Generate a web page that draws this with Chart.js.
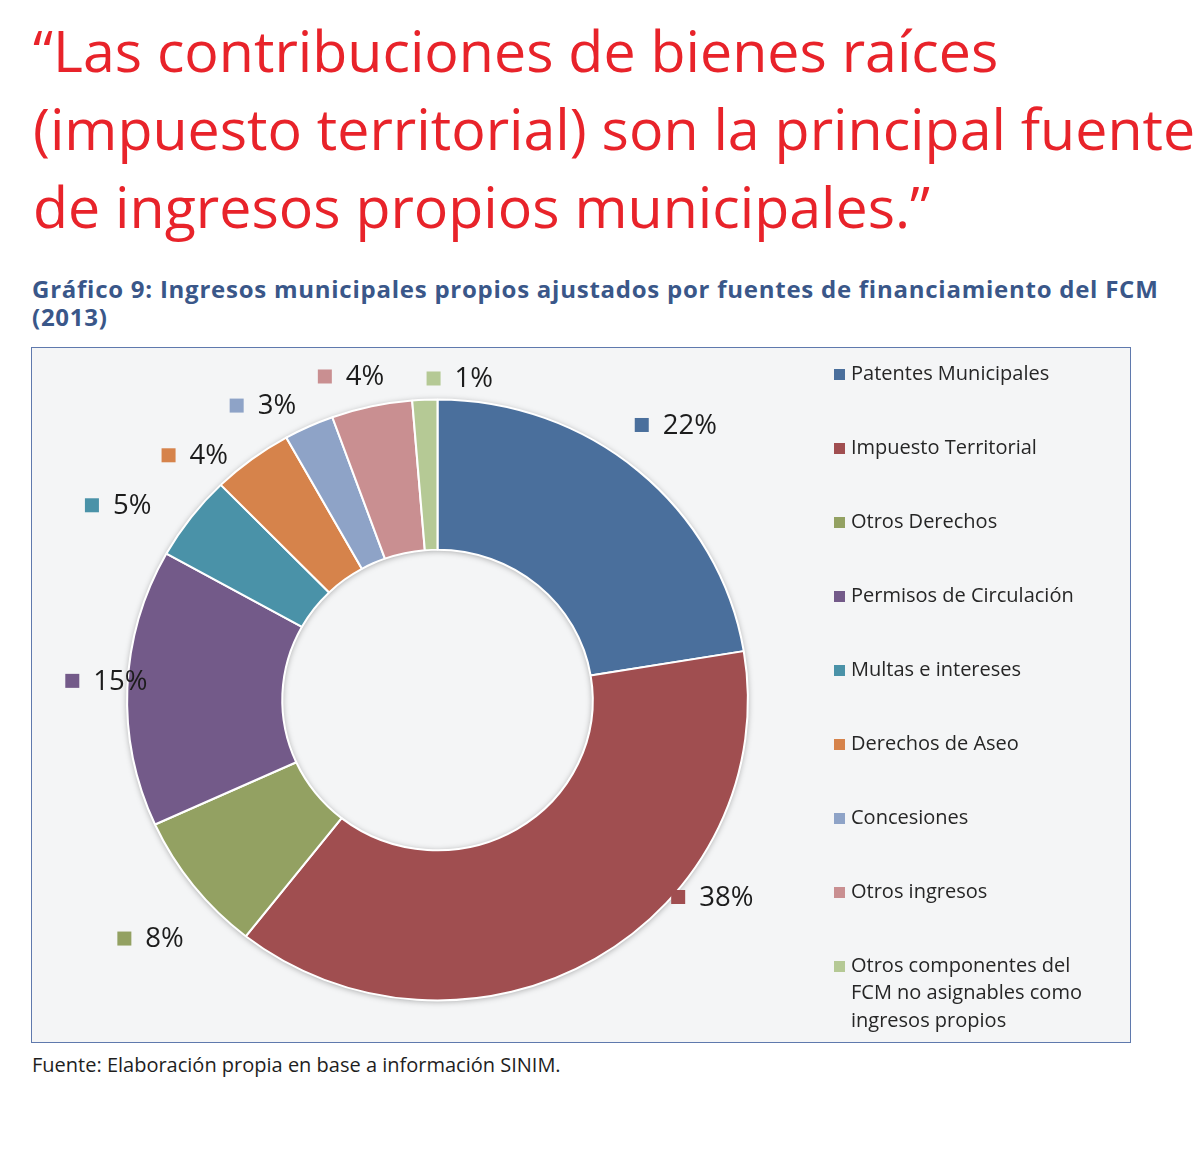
<!DOCTYPE html>
<html>
<head>
<meta charset="utf-8">
<script src="https://cdn.jsdelivr.net/npm/chart.js@4.4.1/dist/chart.umd.min.js"></script>
<style>
html, body { margin: 0; padding: 0; background: #fff; width: 1200px; height: 1153px; overflow: hidden; }
.headline { position: absolute; left: 33px; top: 11px; font-family: "Open Sans", sans-serif; font-size: 57.3px; line-height: 78px; color: #e8232a; white-space: nowrap; }
.subtitle { position: absolute; left: 32px; top: 275px; font-family: "Open Sans", sans-serif; font-weight: 700; font-size: 24px; letter-spacing: 0.75px; line-height: 28px; color: #3a5789; white-space: nowrap; }
.box { position: absolute; left: 31px; top: 347px; width: 1100px; height: 696px; box-sizing: border-box; border: 1px solid #5f79ad; background: #f4f5f6; }
.box canvas { display: block; }
.source { position: absolute; left: 32px; top: 1052px; font-family: "Open Sans", sans-serif; font-size: 20px; line-height: 26px; color: #1e1e1e; white-space: nowrap; }
</style>
</head>
<body>
<div class="headline">“Las contribuciones de bienes raíces<br>(impuesto territorial) son la principal fuente<br>de ingresos propios municipales.”</div>
<div class="subtitle">Gráfico 9: Ingresos municipales propios ajustados por fuentes de financiamiento del FCM<br>(2013)</div>
<div class="box"><canvas id="donut" width="1098" height="694"></canvas></div>
<div class="source">Fuente: Elaboración propia en base a información SINIM.</div>

<script>
"use strict";

// data (share of own municipal income, %)
const categories = [
    "Patentes Municipales",
    "Impuesto Territorial",
    "Otros Derechos",
    "Permisos de Circulación",
    "Multas e intereses",
    "Derechos de Aseo",
    "Concesiones",
    "Otros ingresos",
    "Otros componentes del FCM no asignables como ingresos propios"
];
const shares = [22.4, 38.2, 7.6, 14.9, 4.6, 4.2, 2.6, 4.2, 1.3];
const colours = ["#4a6f9c", "#a04e50", "#93a162", "#735a89", "#4a92a8", "#d6834b", "#8ea3c7", "#c98f91", "#b5c995"];

// where each % label sits: [degrees clockwise from top, distance in outer radii]
const label_spots = [[36.6, 1.14], [129.3, 1.035], [232.7, 1.31], [273, 1.217], [299.4, 1.32], [312.3, 1.21], [325.7, 1.186], [340.8, 1.14], [359.3, 1.07]];

const BG = "#f4f5f6";

// the original ring is a bit wider than tall
const stretch_plugin = {
    id: "stretch",
    beforeDatasetsDraw(chart, args, opts) {
        const arc = chart.getDatasetMeta(0).data[0];
        const ctx = chart.ctx;
        ctx.save();
        ctx.translate(arc.x, arc.y);
        ctx.scale(opts.x, 1);
        ctx.translate(-arc.x, -arc.y);
    },
    afterDatasetsDraw(chart) {
        chart.ctx.restore();
    }
};

// soft shadow round the ring (outside and into the hole)
const ring_shadow_plugin = {
    id: "ring_shadow",
    beforeDatasetsDraw(chart) {
        const arc = chart.getDatasetMeta(0).data[0];
        if (!arc) return;
        const ctx = chart.ctx;
        ctx.save();
        ctx.shadowColor = "rgba(0, 0, 0, 0.35)";
        ctx.shadowBlur = 6;
        ctx.shadowOffsetY = 1;
        ctx.beginPath();
        ctx.arc(arc.x, arc.y, arc.outerRadius, 0, Math.PI * 2);
        ctx.arc(arc.x, arc.y, arc.innerRadius, 0, Math.PI * 2, true);
        ctx.fillStyle = BG;
        ctx.fill();
        ctx.restore();
    }
};

const pct_labels_plugin = {
    id: "pct_labels",
    afterDatasetsDraw(chart) {
        const meta = chart.getDatasetMeta(0);
        const ctx = chart.ctx;
        ctx.save();
        ctx.font = "27.5px 'Open Sans'";
        ctx.textBaseline = "middle";
        meta.data.forEach((arc, i) => {
            const [deg, dist] = label_spots[i];
            const a = deg * Math.PI / 180;
            const x = arc.x + Math.sin(a) * dist * arc.outerRadius;
            const y = arc.y - Math.cos(a) * dist * arc.outerRadius;
            ctx.fillStyle = colours[i];
            ctx.fillRect(x - 7, y - 7, 14, 14);
            ctx.fillStyle = "#1c1c1c";
            ctx.fillText(Math.round(shares[i]) + "%", x + 21, y + 1);
        });
        ctx.restore();
    }
};

function wrap_text(ctx, text, max_w) {
    let lines = [];
    let line = "";
    text.split(" ").forEach(w => {
        let test = line ? line + " " + w : w;
        if (ctx.measureText(test).width > max_w && line) {
            lines.push(line);
            line = w;
        } else {
            line = test;
        }
    });
    lines.push(line);
    return lines;
}

const side_legend_plugin = {
    id: "side_legend",
    afterDraw(chart, args, opts) {
        const ctx = chart.ctx;
        ctx.save();
        ctx.font = "20px 'Open Sans'";
        ctx.textBaseline = "middle";
        categories.forEach((name, i) => {
            const y = opts.top + i * opts.step;
            ctx.fillStyle = colours[i];
            ctx.fillRect(opts.left, y - 5, 11, 11);
            ctx.fillStyle = "#262626";
            wrap_text(ctx, name, opts.maxWidth).forEach((ln, k) => {
                ctx.fillText(ln, opts.left + 17, y + k * opts.lineHeight);
            });
        });
        ctx.restore();
    }
};

new Chart(document.getElementById("donut").getContext("2d"), {
    type: "doughnut",
    data: {
        labels: categories,
        datasets: [{
            data: shares,
            backgroundColor: colours,
            borderColor: "#ffffff",
            borderWidth: 2
        }]
    },
    options: {
        responsive: false,
        animation: false,
        cutout: "50%",
        rotation: 0,
        layout: { padding: { left: 104, top: 50, right: 391, bottom: 40 } },
        events: [],
        plugins: {
            legend: { display: false },
            tooltip: { enabled: false },
            stretch: { x: 1.033 },
            side_legend: { left: 802, top: 26, step: 74, lineHeight: 27.5, maxWidth: 255 }
        }
    },
    plugins: [stretch_plugin, ring_shadow_plugin, pct_labels_plugin, side_legend_plugin]
});
</script>
</body>
</html>
